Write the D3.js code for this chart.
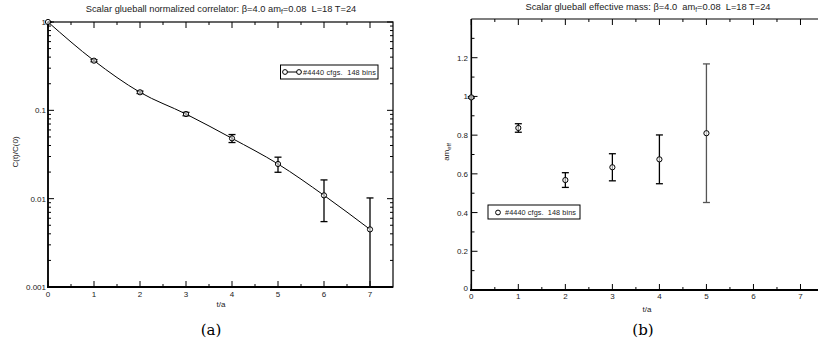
<!DOCTYPE html>
<html><head><meta charset="utf-8">
<script src="https://cdn.jsdelivr.net/npm/d3@7"></script>
<style>
body{margin:0;background:#fff;}
svg{display:block;}
text{font-family:"Liberation Sans",Arial,sans-serif;fill:#222;}
text.cap{font-family:"DejaVu Serif","Liberation Serif",serif;fill:#000;}
</style></head>
<body>
<svg id="c" width="818" height="348"></svg>
<script>
// ---- data ----
const tCorr = [0, 1, 2, 3, 4, 5, 6, 7];
const corr = [1.0, 0.365, 0.160, 0.0908, 0.0482, 0.0247, 0.0109, 0.00449];
const corrErr = [0.004, 0.010, 0.005, 0.004, 0.0050, 0.0048, 0.0054, 0.0057];
const tMass = [0, 1, 2, 3, 4, 5];
const meff = [0.995, 0.837, 0.568, 0.634, 0.675, 0.810];
const meffErr = [0.004, 0.022, 0.038, 0.070, 0.126, 0.358];
const xTicks = [0, 1, 2, 3, 4, 5, 6, 7];
const yTicksA = [1, 0.1, 0.01, 0.001];
const yTickLabelsA = ["1", "0.1", "0.01", "0.001"];
const yTicksB = [0, 0.2, 0.4, 0.6, 0.8, 1.0, 1.2];
const yTickLabelsB = ["0", "0.2", "0.4", "0.6", "0.8", "1", "1.2"];
const legendText = "#4440 cfgs.  148 bins";

const svg = d3.select("#c");
const fs = 8;
const tfs = 9.3;
const lfs = 7.3;

// ================= Chart (a) =================
{
  const x = d3.scaleLinear().domain([0, 7.5]).range([48, 393]);
  const y = d3.scaleLog().domain([0.001, 1]).range([287, 22]);
  const g = svg.append("g");
  g.append("clipPath").attr("id","clipA").append("rect")
    .attr("x",48).attr("y",15).attr("width",345).attr("height",272);

  g.append("rect").attr("x",48).attr("y",22).attr("width",345).attr("height",265)
    .attr("fill","none").attr("stroke","#000").attr("stroke-width",1.2);
  g.append("line").attr("x1",47).attr("x2",393).attr("y1",287).attr("y2",287)
    .attr("stroke","#000").attr("stroke-width",2);
  g.append("line").attr("x1",48).attr("x2",48).attr("y1",22).attr("y2",287)
    .attr("stroke","#000").attr("stroke-width",1.6);

  const xMinor = d3.range(0.5, 7.5, 1);
  xTicks.forEach(v => {
    g.append("line").attr("x1",x(v)).attr("x2",x(v)).attr("y1",287).attr("y2",281).attr("stroke","#000");
    g.append("line").attr("x1",x(v)).attr("x2",x(v)).attr("y1",22).attr("y2",28).attr("stroke","#000");
    g.append("text").attr("x",x(v)).attr("y",297).attr("text-anchor","middle").attr("font-size",fs).text(v);
  });
  xMinor.forEach(v => {
    g.append("line").attr("x1",x(v)).attr("x2",x(v)).attr("y1",287).attr("y2",284).attr("stroke","#000");
    g.append("line").attr("x1",x(v)).attr("x2",x(v)).attr("y1",22).attr("y2",25).attr("stroke","#000");
  });
  yTicksA.forEach((v,i) => {
    g.append("line").attr("x1",48).attr("x2",54).attr("y1",y(v)).attr("y2",y(v)).attr("stroke","#000");
    g.append("line").attr("x1",393).attr("x2",387).attr("y1",y(v)).attr("y2",y(v)).attr("stroke","#000");
    g.append("text").attr("x",46).attr("y",y(v)+3).attr("text-anchor","end").attr("font-size",fs).text(yTickLabelsA[i]);
  });
  [0.001,0.01,0.1].forEach(dec => {
    for (let k=2;k<=9;k++){
      const v = dec*k;
      g.append("line").attr("x1",48).attr("x2",51).attr("y1",y(v)).attr("y2",y(v)).attr("stroke","#000");
      g.append("line").attr("x1",393).attr("x2",390).attr("y1",y(v)).attr("y2",y(v)).attr("stroke","#000");
    }
  });

  g.append("text").attr("x",221).attr("y",12).attr("text-anchor","middle").attr("font-size",tfs)
    .style("white-space","pre")
    .html('Scalar glueball normalized correlator: β=4.0 am<tspan dy="2" font-size="6.5">f</tspan><tspan dy="-2">=0.08  L=18 T=24</tspan>');
  g.append("text").attr("x",221).attr("y",307).attr("text-anchor","middle").attr("font-size",fs).text("t/a");
  g.append("text").attr("transform","translate(18,152) rotate(-90)").attr("text-anchor","middle").attr("font-size",fs).text("C(t)/C(0)");
  g.append("text").attr("class","cap").attr("x",211).attr("y",335).attr("text-anchor","middle")
    .attr("font-size",15).text("(a)");

  const pts = tCorr.map((t,i)=>({t, v:corr[i], e:corrErr[i]}));
  const dg = g.append("g").attr("clip-path","url(#clipA)");
  dg.append("path").datum(pts)
    .attr("d", d3.line().x(d=>x(d.t)).y(d=>y(d.v)).curve(d3.curveMonotoneX))
    .attr("fill","none").attr("stroke","#000").attr("stroke-width",1);
  pts.forEach(d=>{
    const lo = d.v - d.e > 0 ? y(d.v-d.e) : 300;
    const hi = y(d.v+d.e);
    dg.append("line").attr("x1",x(d.t)).attr("x2",x(d.t)).attr("y1",hi).attr("y2",lo).attr("stroke","#000").attr("stroke-width",1.3);
    dg.append("line").attr("x1",x(d.t)-3.5).attr("x2",x(d.t)+3.5).attr("y1",hi).attr("y2",hi).attr("stroke","#000").attr("stroke-width",1.3);
    if (d.v-d.e>0) dg.append("line").attr("x1",x(d.t)-3.5).attr("x2",x(d.t)+3.5).attr("y1",lo).attr("y2",lo).attr("stroke","#000").attr("stroke-width",1.3);
  });
  pts.forEach(d=>{
    g.append("circle").attr("cx",x(d.t)).attr("cy",y(d.v)).attr("r",2.6)
      .attr("fill","#fff").attr("fill-opacity",0.6).attr("stroke","#000").attr("stroke-width",1);
  });

  g.append("rect").attr("x",280.5).attr("y",65).attr("width",97.5).attr("height",14)
    .attr("fill","#fff").attr("stroke","#000").attr("stroke-width",1);
  g.append("line").attr("x1",285).attr("x2",299).attr("y1",72).attr("y2",72).attr("stroke","#000");
  [285,299].forEach(cx=>g.append("circle").attr("cx",cx).attr("cy",72).attr("r",2.4)
    .attr("fill","#fff").attr("stroke","#000").attr("stroke-width",1));
  g.append("text").attr("x",303).attr("y",74.5).attr("font-size",lfs).attr("textLength",73)
    .style("white-space","pre").text(legendText);
}

// ================= Chart (b) =================
{
  const x = d3.scaleLinear().domain([0, 7.5]).range([471.3, 824]);
  const y = d3.scaleLinear().domain([0, 1.4]).range([290, 19]);
  const g = svg.append("g");

  g.append("line").attr("x1",471.3).attr("x2",818).attr("y1",19).attr("y2",19).attr("stroke","#000").attr("stroke-width",1.2);
  g.append("line").attr("x1",470).attr("x2",818).attr("y1",290).attr("y2",290).attr("stroke","#000").attr("stroke-width",2);
  g.append("line").attr("x1",471.3).attr("x2",471.3).attr("y1",19).attr("y2",290).attr("stroke","#000").attr("stroke-width",1.6);

  const xMinor = d3.range(0.5, 7.5, 1);
  xTicks.forEach(v => {
    g.append("line").attr("x1",x(v)).attr("x2",x(v)).attr("y1",290).attr("y2",284).attr("stroke","#000");
    g.append("line").attr("x1",x(v)).attr("x2",x(v)).attr("y1",19).attr("y2",25).attr("stroke","#000");
    g.append("text").attr("x",x(v)).attr("y",298.5).attr("text-anchor","middle").attr("font-size",fs).text(v);
  });
  xMinor.forEach(v => {
    g.append("line").attr("x1",x(v)).attr("x2",x(v)).attr("y1",290).attr("y2",287).attr("stroke","#000");
    g.append("line").attr("x1",x(v)).attr("x2",x(v)).attr("y1",19).attr("y2",22).attr("stroke","#000");
  });
  yTicksB.forEach((v,i) => {
    g.append("line").attr("x1",471.3).attr("x2",477.5).attr("y1",y(v)).attr("y2",y(v)).attr("stroke","#000");
    g.append("text").attr("x",468).attr("y",y(v)+3 - (v===0?2:0)).attr("text-anchor","end").attr("font-size",fs).text(yTickLabelsB[i]);
  });
  d3.range(0.1, 1.4, 0.2).forEach(v => {
    g.append("line").attr("x1",471.3).attr("x2",474.5).attr("y1",y(v)).attr("y2",y(v)).attr("stroke","#000");
  });

  g.append("text").attr("x",648).attr("y",10).attr("text-anchor","middle").attr("font-size",tfs)
    .style("white-space","pre")
    .html('Scalar glueball effective mass: β=4.0  am<tspan dy="2" font-size="6.5">f</tspan><tspan dy="-2">=0.08  L=18 T=24</tspan>');
  g.append("text").attr("x",647).attr("y",312).attr("text-anchor","middle").attr("font-size",fs).text("t/a");
  g.append("text").attr("transform","translate(449,152) rotate(-90)").attr("text-anchor","middle").attr("font-size",fs)
    .html('am<tspan dy="2" font-size="6">eff</tspan>');
  g.append("text").attr("class","cap").attr("x",643).attr("y",335).attr("text-anchor","middle")
    .attr("font-size",15).text("(b)");

  const pts = tMass.map((t,i)=>({t, v:meff[i], e:meffErr[i]}));
  pts.forEach(d=>{
    const col = d.e > 0.3 ? "#555" : "#000";
    const lo = y(d.v-d.e), hi = y(d.v+d.e);
    g.append("line").attr("x1",x(d.t)).attr("x2",x(d.t)).attr("y1",hi).attr("y2",lo).attr("stroke",col).attr("stroke-width",1.3);
    g.append("line").attr("x1",x(d.t)-3.5).attr("x2",x(d.t)+3.5).attr("y1",hi).attr("y2",hi).attr("stroke",col).attr("stroke-width",1.3);
    g.append("line").attr("x1",x(d.t)-3.5).attr("x2",x(d.t)+3.5).attr("y1",lo).attr("y2",lo).attr("stroke",col).attr("stroke-width",1.3);
  });
  pts.forEach(d=>{
    g.append("circle").attr("cx",x(d.t)).attr("cy",y(d.v)).attr("r",2.6)
      .attr("fill","#fff").attr("fill-opacity",0.6).attr("stroke","#000").attr("stroke-width",1);
  });

  g.append("rect").attr("x",488).attr("y",205).attr("width",92).attr("height",14)
    .attr("fill","#fff").attr("stroke","#000").attr("stroke-width",1);
  g.append("circle").attr("cx",498).attr("cy",212.5).attr("r",2.4).attr("fill","#fff").attr("stroke","#000");
  g.append("text").attr("x",505).attr("y",215).attr("font-size",lfs).attr("textLength",71)
    .style("white-space","pre").text(legendText);
}
</script>
</body></html>
